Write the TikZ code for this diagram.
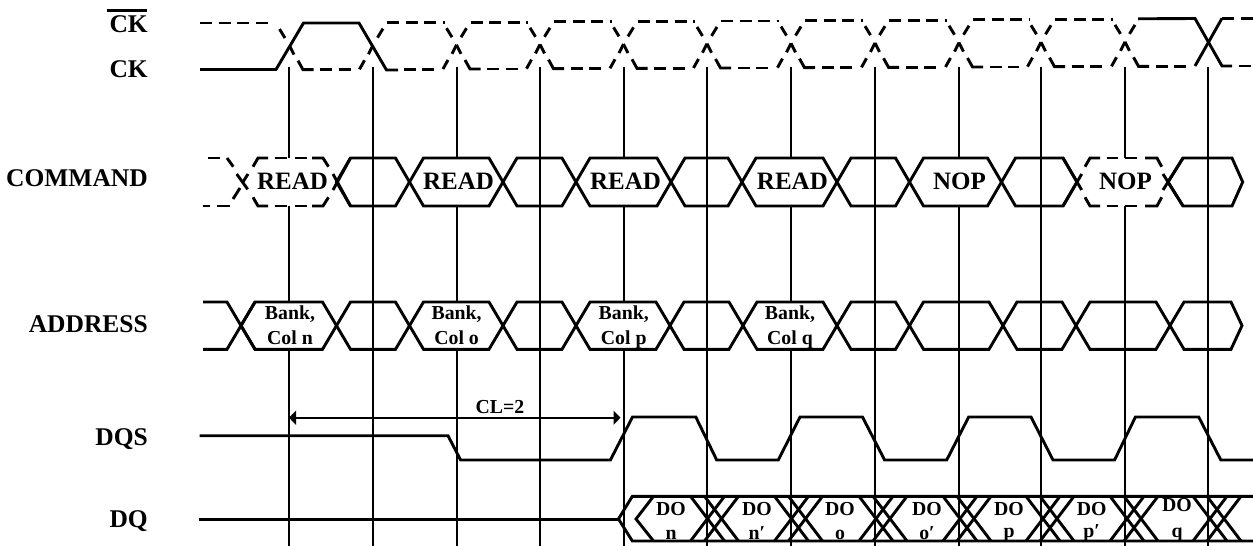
\documentclass[tikz,border=0pt]{standalone}
\usepackage{fontspec}
\setmainfont{Liberation Serif}
\usetikzlibrary{arrows.meta}
\tikzset{
  sig/.style={line width=2.9pt,line join=miter,line cap=butt},
  dsh/.style={sig,dash pattern=on 12pt off 6.5pt},
  grid/.style={line width=1.7pt},
  lab/.style={anchor=base east,inner sep=0pt,font=\fontsize{25.5}{25.5}\selectfont\bfseries},
  big/.style={anchor=base,inner sep=0pt,font=\fontsize{25}{25}\selectfont\bfseries},
  small/.style={anchor=base,inner sep=0pt,font=\fontsize{19.8}{19.8}\selectfont\bfseries},
}
\newcommand{\ckvals}[1]{%
  \pgfmathsetmacro\tp{23.5-0.005*(#1-200)}%
  \pgfmathsetmacro\bt{70-0.004*(#1-200)}%
  \pgfmathsetmacro\md{46-0.0045*(#1-200)}}
\newcommand{\ckfall}[1]{\ckvals{#1}%
  \draw[sig] (#1-10,\tp+6) -- (#1-4.5,\tp+15);
  \draw[sig] (#1,\md) -- (#1+4.5,\md+9);
  \draw[sig] (#1+8.5,\bt-9) -- (#1+13.5,\bt) -- (#1+24,\bt);}
\newcommand{\ckrise}[1]{\ckvals{#1}%
  \draw[sig] (#1-13.5,\bt) -- (#1-8.5,\bt-9);
  \draw[sig] (#1,\md) -- (#1-4.5,\md+9);
  \draw[sig] (#1+4.5,\tp+15) -- (#1+10,\tp+6);}
\newcommand{\hexrow}[3]{% top, bottom, list of c/n
  \pgfmathsetmacro\mdy{(#1+#2)/2}%
  \foreach \a/\b in {#3}{
    \draw[sig] (\a,\mdy) -- (\a+14,#1) -- (\b-14,#1) -- (\b,\mdy) -- (\b-14,#2) -- (\a+14,#2) -- cycle;
  }}
\begin{document}
\begin{tikzpicture}[x=1pt,y=-1pt]
\useasboundingbox (0,0) rectangle (1253,546);
\fill[white] (0,0) rectangle (1253,546);
% row labels
\node[lab] (lckb) at (148,32) {CK};
\node[lab] (lck) at (148,77) {CK};
\node[lab] (lcmd) at (148,186.7) {COMMAND};
\node[lab] (ladr) at (148,332.7) {ADDRESS};
\node[lab] (ldqs) at (148,445.7) {DQS};
\node[lab] (ldq) at (148,527) {DQ};
\draw[line width=2.4pt] (107,10.5) -- (147,10.5);
% vertical grid lines
\foreach \x in {289,457,624,791}{
  \draw[grid] (\x,67) -- (\x,158);
  \draw[grid] (\x,206) -- (\x,302);
  \draw[grid] (\x,349) -- (\x,546);
}
\foreach \x in {373,540,707,875,1041,1208}{
  \draw[grid] (\x,67) -- (\x,546);
}
\foreach \x in {959,1125}{
  \draw[grid] (\x,67) -- (\x,158);
  \draw[grid] (\x,206) -- (\x,546);
}
% clock: solid parts
\draw[sig] (200,69.5) -- (276,69.5) -- (303.5,23) -- (359,23) -- (386.5,70) -- (398,70);
\draw[sig] (1138,18.8) -- (1195,18.5) -- (1222,66) -- (1232,66);
\draw[sig] (1195,66) -- (1222,18.3);
% clock: dashed parts
\draw[dsh] (200,23) -- (268,23);
\ckfall{289.5}
\ckrise{373}
\foreach \c in {456.5,540,623.5,707,791,875,959,1041,1125}{
  \ckfall{\c}
  \ckrise{\c}
}
\foreach \a/\b in {373/456.5,456.5/540,540/623.5,623.5/707,707/791,791/875,875/959,959/1041,1041/1125}{
  \pgfmathsetmacro\tp{23.5-0.005*(\a-200)}
  \draw[dsh] (\a+14,\tp) -- (\b-12,\tp);
}
\foreach \a/\b in {289.5/373,373/456.5,456.5/540,540/623.5,623.5/707,707/791,791/875,875/959,959/1041,1041/1125,1125/1208}{
  \pgfmathsetmacro\bt{70-0.004*(\a-200)}
  \draw[dsh] (\a+30.5,\bt) -- (\b-22.5,\bt);
}
\draw[dsh] (1239,66) -- (1253,66);
\draw[dsh] (1222,18.3) -- (1253,18.3);
% command row: solid hexagons
\hexrow{158}{206}{336.5/409.5,409.5/503,503/576,576/671,671/742,742/837,837/909.5,909.5/1001.5,1001.5/1077}
\draw[sig] (1168,182) -- (1183,158) -- (1232,158) -- (1242.7,182) -- (1232,206) -- (1183,206) -- cycle;
% command row: tails at the dashed hexagons
\draw[sig] (333,174) -- (350.5,206);
\draw[sig] (333,190) -- (350.5,158);
\draw[sig] (1063,158) -- (1081.7,190);
\draw[sig] (1063,206) -- (1081.7,174);
\draw[sig] (1163,174) -- (1183,206);
\draw[sig] (1163,190) -- (1183,158);
% command row: dashed start
\draw[sig] (208,158) -- (220,158);
\draw[sig] (227,158) -- (233.3,166.7);
\draw[sig] (236.7,174) -- (247.7,189.3);
\draw[sig] (248,174) -- (243,182);
\draw[sig] (240,188) -- (233,199);
\draw[sig] (203,206) -- (210,206);
\draw[sig] (217,206) -- (230,206);
% command row: dashed READ
\foreach \y/\z in {158/166.7,206/197.3}{
  \draw[sig] (253,\z) -- (258,\y) -- (268,\y);
  \draw[sig] (275,\y) -- (287,\y);
  \draw[sig] (295,\y) -- (307,\y);
  \draw[sig] (312,\y) -- (323,\y) -- (328.5,\z);
}
% command row: dashed NOP
\foreach \y/\z in {158/166.7,206/197.3}{
  \draw[sig] (1085,\z) -- (1090,\y) -- (1100,\y);
  \draw[sig] (1107,\y) -- (1118,\y);
  \draw[sig] (1125,\y) -- (1137,\y);
  \draw[sig] (1145,\y) -- (1157,\y) -- (1161.7,\z);
}
% command labels
\node[big] (r1) at (292.5,189.5) {READ};
\node[big] (r2) at (458.6,189.5) {READ};
\node[big] (r3) at (625.6,189.5) {READ};
\node[big] (r4) at (792.4,189.5) {READ};
\node[big] (n1) at (959.5,189.5) {NOP};
\node[big] (n2) at (1125.5,189.5) {NOP};
% address row
\hexrow{302}{349.3}{241/336.5,336.5/409.5,409.5/503,503/576,576/670,670/743,743/837,837/909.5,909.5/1003,1003/1076,1076/1170}
\draw[sig] (203,302) -- (227,302) -- (255,349.3);
\draw[sig] (203,349.3) -- (227,349.3) -- (255,302);
\draw[sig] (1170,325.6) -- (1184,302) -- (1231,302) -- (1242,325.6) -- (1231,349.3) -- (1184,349.3) -- cycle;
\foreach \nm/\x/\t in {a/290/Col n,b/456.6/Col o,c/623.7/Col p,d/790/Col q}{
  \node[small] (bk\nm) at (\x,319.3) {Bank,};
  \node[small] (co\nm) at (\x,344) {\t};
}
% CL arrow
\coordinate (clL) at (289,417.7);
\coordinate (clR) at (620.5,417.7);
\draw[grid,{Triangle[length=7pt,width=14pt]}-{Triangle[length=7pt,width=14pt]}] (clL) -- (clR);
\node[small] (cl) at (500,413.3) {CL=2};
% DQS
\draw[sig] (199.5,435.7) -- (448,435.7) -- (460.6,460) -- (610.4,460) -- (632.5,417) -- (695.8,417) -- (716.7,460) -- (778.3,460) -- (800,417) -- (862.5,417) -- (884.6,460) -- (946.7,460) -- (968.7,417) -- (1031,417) -- (1053,460) -- (1114.6,460) -- (1135.4,417) -- (1198.7,417) -- (1220.8,460) -- (1253,460);
% DQ labels
\foreach \nm/\x/\t/\yy/\zz in {n/671/n/515/539.3,np/757/n′/515/539.3,o/840/o/515/539.3,op/927/o′/515/539.3,p/1009/p/515/537.7,pp/1091.7/p′/515/537.7,q/1177/q/511.7/537}{
  \node[small] (do\nm) at (\x,\yy) {DO};
  \node[small] (dl\nm) at (\x,\zz) {\t};
}
% DQ bus
\draw[sig] (199,519.3) -- (618.5,519.3);
\draw[sig] (1253,496.3) -- (632.3,496.3) -- (618.5,519) -- (632.3,541) -- (1253,541);
\draw[sig] (653.5,496.3) -- (636,519) -- (653.5,541);
\foreach \C in {714.5,798.5,883,967,1050,1134,1217}{
  \draw[sig] (\C-24,496.3) -- (\C+10,541);
  \draw[sig] (\C-10,496.3) -- (\C+24,541);
  \draw[sig] (\C-24,541) -- (\C+10,496.3);
  \draw[sig] (\C-10,541) -- (\C+24,496.3);
}
\end{tikzpicture}
\end{document}
